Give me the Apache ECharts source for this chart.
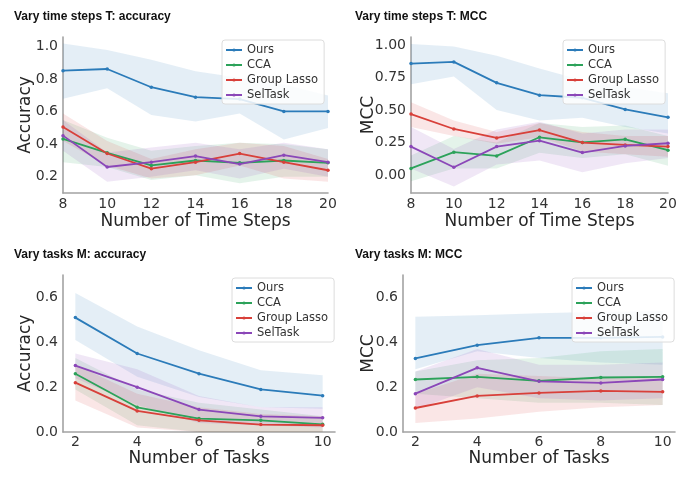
<!DOCTYPE html>
<html lang="en">
<head>
    <meta charset="UTF-8">
    <title>Vary time steps / tasks</title>
    <script src="https://cdn.jsdelivr.net/npm/echarts@6/dist/echarts.min.js"></script>
    <style>
        html, body { margin: 0; padding: 0; background: #fff; }
        #chart { width: 680px; height: 479px; }
    </style>
</head>
<body>
    <div id="chart"></div>
    <script>
        // categories
        const methods = ['Ours', 'CCA', 'Group Lasso', 'SelTask'];
        const timeSteps = [8, 10, 12, 14, 16, 18, 20];
        const numTasks = [2, 4, 6, 8, 10];

        // tick labels
        const tAccTicks = [0.2, 0.4, 0.6, 0.8, 1.0];
        const tMccTicks = [0.00, 0.25, 0.50, 0.75, 1.00];
        const mTicks = [0.0, 0.2, 0.4, 0.6];
        const tStepTicks = [8, 10, 12, 14, 16, 18, 20];
        const mTaskTicks = [2, 4, 6, 8, 10];

        // Vary time steps T: accuracy (rows follow methods)
        const tAccMean = [
            [0.853, 0.863, 0.751, 0.690, 0.678, 0.602, 0.602],
            [0.433, 0.347, 0.270, 0.300, 0.286, 0.300, 0.286],
            [0.506, 0.343, 0.250, 0.290, 0.343, 0.290, 0.240],
            [0.453, 0.260, 0.290, 0.327, 0.278, 0.333, 0.290]
        ];
        const tAccLo = [
            [0.68, 0.745, 0.58, 0.54, 0.59, 0.43, 0.50],
            [0.29, 0.26, 0.18, 0.21, 0.16, 0.20, 0.20],
            [0.42, 0.27, 0.19, 0.21, 0.27, 0.19, 0.17],
            [0.36, 0.17, 0.20, 0.24, 0.19, 0.25, 0.20]
        ];
        const tAccHi = [
            [1.02, 0.98, 0.92, 0.85, 0.81, 0.77, 0.70],
            [0.55, 0.44, 0.36, 0.39, 0.41, 0.40, 0.37],
            [0.59, 0.42, 0.31, 0.37, 0.41, 0.39, 0.31],
            [0.55, 0.35, 0.38, 0.41, 0.37, 0.41, 0.37]
        ];

        // Vary time steps T: MCC
        const tMccMean = [
            [0.859, 0.872, 0.710, 0.615, 0.595, 0.505, 0.444],
            [0.050, 0.175, 0.146, 0.290, 0.250, 0.274, 0.190],
            [0.469, 0.354, 0.285, 0.346, 0.249, 0.231, 0.218],
            [0.218, 0.059, 0.218, 0.264, 0.172, 0.223, 0.244]
        ];
        const tMccLo = [
            [0.70, 0.76, 0.50, 0.42, 0.44, 0.37, 0.32],
            [-0.05, 0.05, 0.05, 0.17, 0.13, 0.16, 0.07],
            [0.37, 0.30, 0.24, 0.29, 0.18, 0.16, 0.14],
            [0.05, -0.09, 0.08, 0.11, 0.02, 0.09, 0.13]
        ];
        const tMccHi = [
            [1.01, 0.99, 0.92, 0.82, 0.73, 0.68, 0.63],
            [0.15, 0.30, 0.25, 0.40, 0.37, 0.38, 0.30],
            [0.56, 0.42, 0.33, 0.40, 0.33, 0.30, 0.30],
            [0.37, 0.20, 0.35, 0.41, 0.32, 0.35, 0.35]
        ];

        // Vary tasks M: accuracy
        const mAccMean = [
            [0.510, 0.350, 0.260, 0.190, 0.162],
            [0.260, 0.110, 0.060, 0.052, 0.034],
            [0.220, 0.094, 0.052, 0.033, 0.030],
            [0.296, 0.200, 0.100, 0.070, 0.063]
        ];
        const mAccLo = [
            [0.41, 0.246, 0.156, 0.11, 0.104],
            [0.19, 0.03, 0.00, 0.00, 0.00],
            [0.14, 0.02, 0.00, 0.00, 0.00],
            [0.24, 0.12, 0.04, 0.03, 0.02]
        ];
        const mAccHi = [
            [0.62, 0.47, 0.365, 0.275, 0.253],
            [0.33, 0.19, 0.13, 0.10, 0.07],
            [0.30, 0.17, 0.11, 0.08, 0.07],
            [0.35, 0.28, 0.16, 0.11, 0.11]
        ];

        // Vary tasks M: MCC
        const mMccMean = [
            [0.328, 0.387, 0.420, 0.420, 0.424],
            [0.234, 0.246, 0.228, 0.243, 0.246],
            [0.107, 0.161, 0.174, 0.183, 0.179],
            [0.171, 0.286, 0.226, 0.219, 0.234]
        ];
        const mMccLo = [
            [0.28, 0.36, 0.33, 0.31, 0.30],
            [0.17, 0.15, 0.13, 0.13, 0.12],
            [0.04, 0.06, 0.09, 0.11, 0.12],
            [0.10, 0.20, 0.15, 0.14, 0.15]
        ];
        const mMccHi = [
            [0.514, 0.52, 0.53, 0.536, 0.54],
            [0.27, 0.32, 0.33, 0.36, 0.37],
            [0.17, 0.26, 0.25, 0.24, 0.24],
            [0.27, 0.37, 0.30, 0.30, 0.31]
        ];

        const colors = ['#2b7bb9', '#2ca25a', '#d8403a', '#8b47b8'];
        const tickFont = { fontFamily: 'DejaVu Sans', fontSize: 14, color: '#333' };
        const nameFont = { fontFamily: 'DejaVu Sans', fontSize: 17, color: '#262626' };
        const spine = { color: '#a3a3a3', width: 1.6 };

        var myChart = echarts.init(document.getElementById('chart'), null, { renderer: 'canvas' });

        const grids = [
            { left: 63, top: 37, width: 265, height: 156 },
            { left: 411, top: 37, width: 257, height: 156 },
            { left: 63, top: 275, width: 272, height: 157 },
            { left: 403, top: 275, width: 272, height: 157 }
        ];

        function xAxisFor(idx, min, max, ticks, name, gap, margin) {
            return {
                gridIndex: idx, type: 'value', min: min, max: max,
                name: name, nameLocation: 'middle', nameGap: gap, nameTextStyle: nameFont,
                nameMoveOverlap: false,
                axisLine: { show: true, onZero: false, lineStyle: spine },
                axisTick: { show: false },
                splitLine: { show: false },
                axisLabel: Object.assign({ customValues: ticks, margin: margin }, tickFont)
            };
        }

        function yAxisFor(idx, min, max, ticks, digits, name, gap) {
            return {
                gridIndex: idx, type: 'value', min: min, max: max,
                name: name, nameLocation: 'middle', nameGap: gap, nameTextStyle: nameFont,
                nameMoveOverlap: false,
                axisLine: { show: true, onZero: false, lineStyle: spine },
                axisTick: { show: false },
                splitLine: { show: false },
                axisLabel: Object.assign({
                    customValues: ticks, margin: 5,
                    formatter: function (v) { return v.toFixed(digits); }
                }, tickFont)
            };
        }

        const series = [];

        // shaded band: one polygon per method, corners mapped through the axes
        function bandSeries(idx, xs, lo, hi, color) {
            const rows = xs.map((x, i) => [x, lo[i], hi[i]]);
            return {
                type: 'custom', xAxisIndex: idx, yAxisIndex: idx,
                data: rows, encode: { x: 0, y: [1, 2] },
                silent: true, z: 1, clip: true,
                renderItem: function (params, api) {
                    if (params.dataIndex !== 0) return null;
                    const upper = rows.map(r => api.coord([r[0], r[2]]));
                    const lower = rows.slice().reverse().map(r => api.coord([r[0], r[1]]));
                    return {
                        type: 'polygon',
                        shape: { points: upper.concat(lower) },
                        style: { fill: color, opacity: 0.13 }
                    };
                }
            };
        }

        function addPanel(idx, xs, mean, lo, hi) {
            methods.forEach(function (m, k) {
                series.push(bandSeries(idx, xs, lo[k], hi[k], colors[k]));
            });
            methods.forEach(function (m, k) {
                series.push({
                    name: m, type: 'line', xAxisIndex: idx, yAxisIndex: idx,
                    data: xs.map((x, i) => [x, mean[k][i]]),
                    symbol: 'circle', symbolSize: 3.5, showSymbol: true,
                    lineStyle: { width: 1.8, color: colors[k] },
                    itemStyle: { color: colors[k] },
                    z: 3
                });
            });
        }

        addPanel(0, timeSteps, tAccMean, tAccLo, tAccHi);
        addPanel(1, timeSteps, tMccMean, tMccLo, tMccHi);
        addPanel(2, numTasks, mAccMean, mAccLo, mAccHi);
        addPanel(3, numTasks, mMccMean, mMccLo, mMccHi);

        function legendAt(left, top) {
            return {
                data: methods, left: left, top: top, orient: 'vertical',
                itemWidth: 16, itemHeight: 4, itemGap: 1,
                padding: [3, 6, 2, 3],
                backgroundColor: 'rgba(255,255,255,0.85)',
                borderColor: '#dcdcdc', borderWidth: 1, borderRadius: 3,
                textStyle: { fontFamily: 'DejaVu Sans', fontSize: 11.5, color: '#333', lineHeight: 14 }
            };
        }

        const titleFont = { fontFamily: 'Liberation Sans', fontWeight: 'bold', fontSize: 12, color: '#111' };

        var option = {
            animation: false,
            title: [
                { text: 'Vary time steps T: accuracy', left: 14, top: 11, textStyle: titleFont, padding: 0 },
                { text: 'Vary time steps T: MCC', left: 355, top: 11, textStyle: titleFont, padding: 0 },
                { text: 'Vary tasks M: accuracy', left: 14, top: 249, textStyle: titleFont, padding: 0 },
                { text: 'Vary tasks M: MCC', left: 355, top: 249, textStyle: titleFont, padding: 0 }
            ],
            grid: grids,
            legend: [
                legendAt(222, 40),
                legendAt(563, 40),
                legendAt(232, 278),
                legendAt(572, 278)
            ],
            xAxis: [
                xAxisFor(0, 8, 20, tStepTicks, 'Number of Time Steps', 20, 4),
                xAxisFor(1, 8, 20, tStepTicks, 'Number of Time Steps', 20, 4),
                xAxisFor(2, 1.6, 10.4, mTaskTicks, 'Number of Tasks', 18, 3),
                xAxisFor(3, 1.6, 10.4, mTaskTicks, 'Number of Tasks', 18, 3)
            ],
            yAxis: [
                yAxisFor(0, 0.1, 1.06, tAccTicks, 1, 'Accuracy', 29),
                yAxisFor(1, -0.14, 1.064, tMccTicks, 2, 'MCC', 34),
                yAxisFor(2, 0, 0.7, mTicks, 1, 'Accuracy', 29),
                yAxisFor(3, 0, 0.7, mTicks, 1, 'MCC', 26)
            ],
            series: series
        };

        myChart.setOption(option);

        window.addEventListener('resize', function () {
            myChart.resize();
        });
    </script>
</body>
</html>
